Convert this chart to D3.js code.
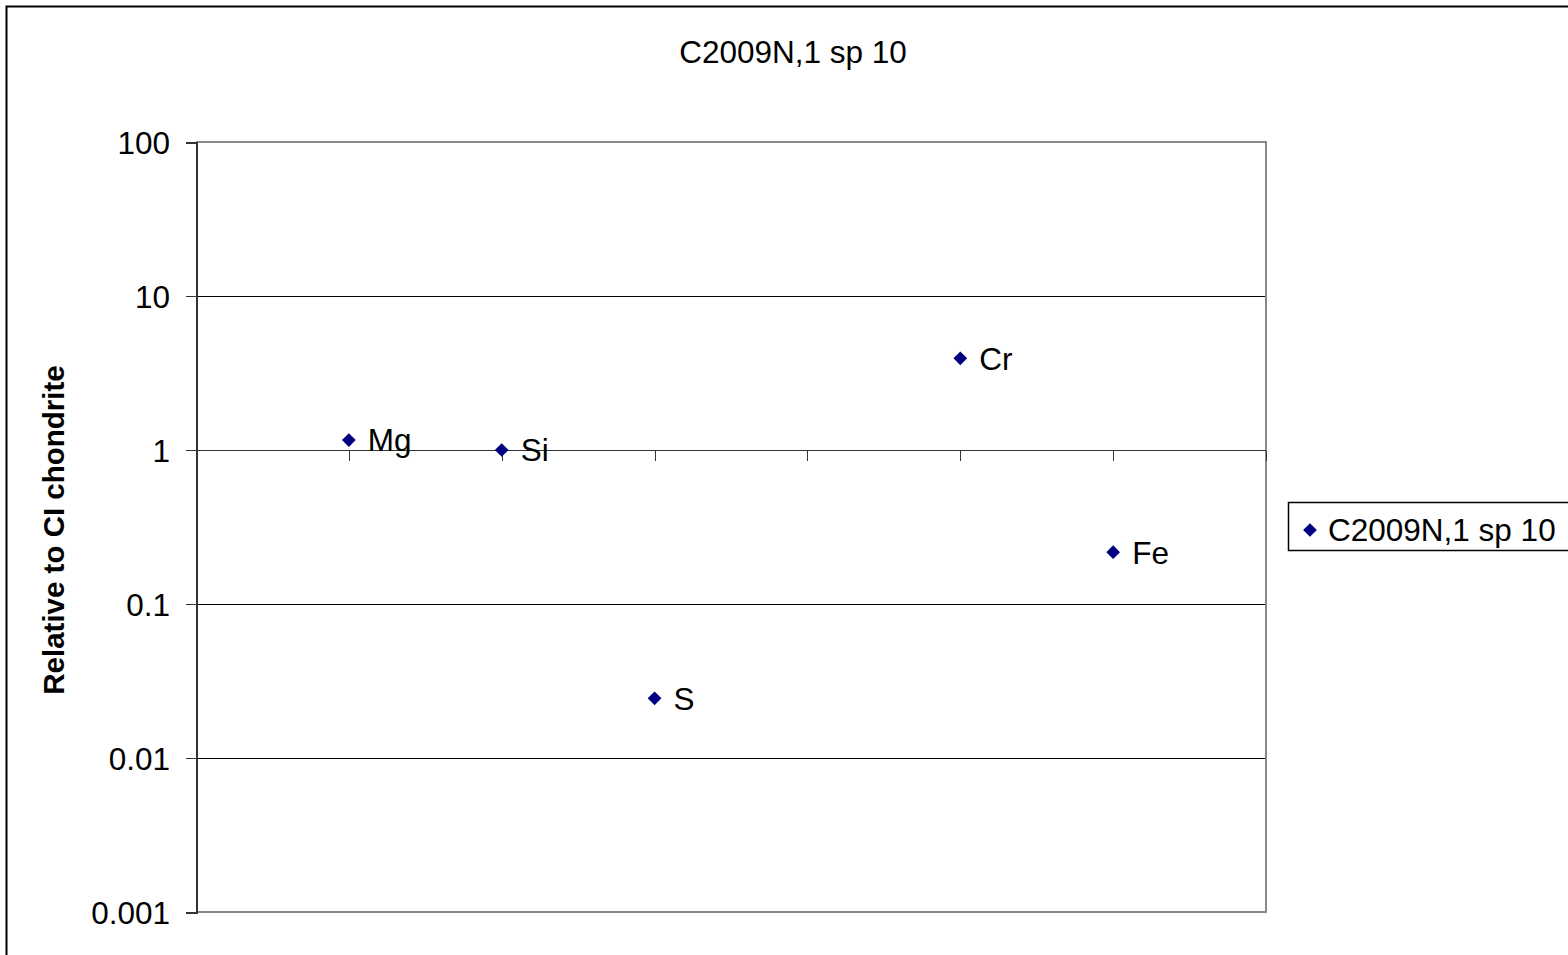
<!DOCTYPE html>
<html>
<head>
<meta charset="utf-8">
<script src="https://cdn.jsdelivr.net/npm/d3@7"></script>
<style>
  body { margin: 0; background: #fff; }
  svg { display: block; font-family: "Liberation Sans", Arial, sans-serif; }
  .grid line { stroke: #000; stroke-width: 1; shape-rendering: crispEdges; }
  .axis path, .axis line { stroke: #333; shape-rendering: crispEdges; }
  .axis text { fill: #000; }
</style>
</head>
<body>
<svg id="chart" width="1568" height="955"></svg>
<script>
// data
const elements = ['Mg', 'Si', 'S', 'Cr', 'Fe'];
const positions = [1, 2, 3, 5, 6];
const ratios = [1.16, 1.0, 0.0244, 3.94, 0.217];
const yTicks = [0.001, 0.01, 0.1, 1, 10, 100];
const xTicks = [1, 2, 3, 4, 5, 6, 7];
const seriesName = 'C2009N,1 sp 10';
const title = 'C2009N,1 sp 10';
const yLabel = 'Relative to CI chondrite';

const svg = d3.select('#chart');
const plot = { left: 196, top: 142, right: 1266, bottom: 912 };
const navy = '#000080';
const fs = 31.5;

// outer chart border (right/bottom run off the picture)
svg.append('rect')
  .attr('x', 6.5).attr('y', 6.5)
  .attr('width', 1600).attr('height', 1000)
  .attr('fill', 'none').attr('stroke', '#000').attr('stroke-width', 2);

const x = d3.scaleLinear().domain([0, 7]).range([plot.left, plot.right]);
const y = d3.scaleLog().domain([0.001, 100]).range([plot.bottom, plot.top]);

// gridlines
svg.append('g')
  .attr('class', 'grid')
  .selectAll('line')
  .data(yTicks.filter(d => d > 0.001 && d < 100))
  .enter().append('line')
  .attr('x1', plot.left).attr('x2', plot.right)
  .attr('y1', d => Math.round(y(d)) + 0.5).attr('y2', d => Math.round(y(d)) + 0.5);

// plot area frame (top / right / bottom grey)
svg.append('path')
  .attr('d', `M${plot.left},${plot.top}H${plot.right}V${plot.bottom}H${plot.left}`)
  .attr('fill', 'none').attr('stroke', '#888').attr('stroke-width', 2);

// y axis
const yAxis = svg.append('g')
  .attr('class', 'axis y')
  .attr('transform', `translate(${plot.left},0)`)
  .call(d3.axisLeft(y).tickValues(yTicks).tickSize(10).tickPadding(16)
    .tickFormat(d => d >= 1 ? d3.format('d')(d) : String(d)));
yAxis.select('.domain').attr('stroke-width', 2);
yAxis.selectAll('text').attr('font-size', fs).attr('dy', '0.36em');

// x axis crossing at 1
const xAxis = svg.append('g')
  .attr('class', 'axis x')
  .attr('transform', `translate(0,${Math.round(y(1)) + 0.5})`)
  .call(d3.axisBottom(x).tickValues(xTicks).tickSize(10).tickFormat(''));
xAxis.select('.domain').attr('d', `M${plot.left},0H${plot.right}`);

// title
svg.append('text')
  .attr('x', 793).attr('y', 63)
  .attr('text-anchor', 'middle')
  .attr('font-size', fs)
  .text(title);

// y label
svg.append('text')
  .attr('transform', `translate(64,${(plot.top + plot.bottom) / 2 + 3}) rotate(-90)`)
  .attr('text-anchor', 'middle')
  .attr('font-size', 29.5)
  .attr('font-weight', 'bold')
  .text(yLabel);

// points
const diamond = d3.symbol().type(d3.symbolDiamond2).size(120);
const pts = svg.append('g').selectAll('g')
  .data(elements.map((e, i) => ({ name: e, x: positions[i], v: ratios[i] })))
  .enter().append('g')
  .attr('transform', d => `translate(${x(d.x)},${y(d.v)})`);

pts.append('path')
  .attr('d', diamond)
  .attr('fill', navy);

pts.append('text')
  .attr('x', 19)
  .attr('dy', '0.36em')
  .attr('font-size', fs)
  .text(d => d.name);

// legend
const leg = svg.append('g').attr('transform', 'translate(1288,502)');
leg.append('rect')
  .attr('x', 0.5).attr('y', 0.5)
  .attr('width', 300).attr('height', 48)
  .attr('fill', '#fff').attr('stroke', '#000').attr('stroke-width', 1.5);
leg.append('path')
  .attr('transform', 'translate(22,28)')
  .attr('d', diamond)
  .attr('fill', navy);
leg.append('text')
  .attr('x', 40).attr('y', 28)
  .attr('dy', '0.36em')
  .attr('font-size', fs)
  .text(seriesName);
</script>
</body>
</html>
